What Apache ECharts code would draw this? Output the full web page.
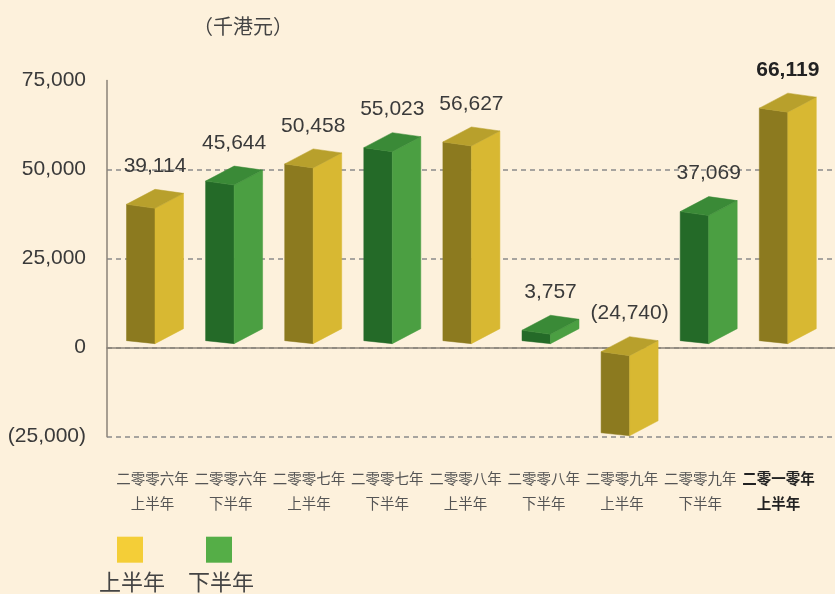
<!DOCTYPE html>
<html><head><meta charset="utf-8">
<script src="https://cdn.jsdelivr.net/npm/echarts@6/dist/echarts.min.js"></script>
<style>html,body{margin:0;padding:0;background:#fdf1dc}#c{width:835px;height:594px}</style>
</head><body><div id="c"></div>
<script>
// ---- data ----
const categories = ['二零零六年\n上半年','二零零六年\n下半年','二零零七年\n上半年','二零零七年\n下半年','二零零八年\n上半年','二零零八年\n下半年','二零零九年\n上半年','二零零九年\n下半年','二零一零年\n上半年'];
const values = [39114, 45644, 50458, 55023, 56627, 3757, -24740, 37069, 66119];
const halfOf = ['上半年','下半年','上半年','下半年','上半年','下半年','上半年','下半年','上半年'];
const seriesNames = ['上半年','下半年'];
const yMin = -25000, yMax = 75000, yStep = 25000;
const unitTitle = '（千港元）';

// ---- styles ----
const palette = {
  '上半年': {legend:'#f4ce37', front:'#8c7a1f', side:'#d8b832', top:'#b8a02c'},
  '下半年': {legend:'#55ae47', front:'#246a28', side:'#4b9f42', top:'#3a8a37'}
};
const lastIdx = categories.length - 1;
function fmt(v){
  const s = Math.abs(v).toLocaleString('en-US');
  return v < 0 ? '(' + s + ')' : s;
}

function renderBar(params, api){
  const idx = api.value(0), v = api.value(1);
  const p = api.coord([idx, v]);
  const c = p[0], yv = p[1];
  const y0 = api.coord([idx, 0])[1];
  const w = 28.5, d = 28.5, rise = 15, skew = 4;
  let ytop, ybot;
  if (v >= 0) { ytop = yv; ybot = y0 - 4; } else { ytop = y0 + 8; ybot = yv; }
  const col = palette[halfOf[idx]];
  const poly = (pts, fill) => ({type:'polygon', shape:{points:pts}, style:{fill:fill, stroke:fill, lineWidth:0.5}});
  const bold = idx === lastIdx;
  return {type:'group', children:[
    poly([[c-w, ytop-skew],[c, ytop],[c, ybot],[c-w, ybot-3]], col.front),
    poly([[c, ytop],[c+d, ytop-rise],[c+d, ybot-rise],[c, ybot]], col.side),
    poly([[c-w, ytop-skew],[c, ytop],[c+d, ytop-rise],[c, ytop-rise-skew]], col.top),
    {type:'text', x:c, y:ytop-42, style:{text:fmt(v), fill: bold ? '#222' : '#3a3a3a',
      font:(bold ? 'bold ' : '') + '21px "Liberation Sans", Arial, sans-serif', align:'center', verticalAlign:'middle'}}
  ]};
}

const series = seriesNames.map(name => ({
  name: name,
  type: 'custom',
  xAxisIndex: 1, yAxisIndex: 1,
  itemStyle: {color: palette[name].legend},
  renderItem: renderBar,
  data: values.map((v,i)=>[i,v]).filter(d => halfOf[d[0]] === name)
}));

const chart = echarts.init(document.getElementById('c'), null, {renderer:'canvas'});
const gTop = 80.5, gBottom = 157.3;
chart.setOption({
  backgroundColor: '#fdf1dc',
  animation: false,
  title: {text: unitTitle, left: 193, top: 16, padding: 0,
    textStyle:{fontSize:20, fontWeight:'normal', color:'#444', fontFamily:'"Noto Sans CJK SC", sans-serif'}},
  grid: [
    {left:107, right:0, top:gTop, bottom:gBottom},
    {left:115.45, right:7.65, top:gTop, bottom:gBottom},
    {left:113.4, right:17.4, top:gTop, bottom:gBottom}
  ],
  xAxis: [
    {gridIndex:0, type:'category', data:categories, axisLabel:{show:false}, axisTick:{show:false},
      axisLine:{show:true, onZero:true, lineStyle:{color:'#8a8278', width:1.5}}, splitLine:{show:false}},
    {gridIndex:1, type:'category', data:categories, show:false},
    {gridIndex:2, type:'category', data:categories, axisLine:{show:false}, axisTick:{show:false},
      axisLabel:{interval:0, margin:29, fontSize:14.5, lineHeight:25, color:'#555',
        fontFamily:'"Noto Sans CJK SC", sans-serif',
        formatter: (val, i) => i === lastIdx ? val.split('\n').map(s=>'{b|'+s+'}').join('\n') : val,
        rich:{b:{fontSize:14.5, lineHeight:25, color:'#222', fontWeight:'bold', fontFamily:'"Noto Sans CJK SC", sans-serif'}}}}
  ],
  yAxis: [
    {gridIndex:0, type:'value', min:yMin, max:yMax, interval:yStep,
      axisLine:{show:true, lineStyle:{color:'#8a8278', width:1.5}}, axisTick:{show:false},
      axisLabel:{margin:21, fontSize:21, color:'#3a3a3a', fontFamily:'"Liberation Sans", Arial, sans-serif', formatter: fmt},
      splitLine:{show:true, showMaxLine:false, lineStyle:{color:'#8a8a8a', width:1.5, type:[5,4]}}},
    {gridIndex:1, type:'value', min:yMin, max:yMax, interval:yStep, show:false, splitLine:{show:false}},
    {gridIndex:2, type:'value', min:yMin, max:yMax, interval:yStep, show:false, splitLine:{show:false}}
  ],
  legend: seriesNames.map((name, k) => ({
    data:[name], left: k === 0 ? 99 : 188, top: 536.7, padding:0, icon:'rect',
    itemWidth:26, itemHeight:26, selectedMode:false,
    formatter: '{t|{name}}',
    textStyle:{rich:{t:{fontSize:22, color:'#444', fontFamily:'"Noto Sans CJK SC", sans-serif', padding:[64,0,0,-49]}}}
  })),
  series: series
});
</script></body></html>
